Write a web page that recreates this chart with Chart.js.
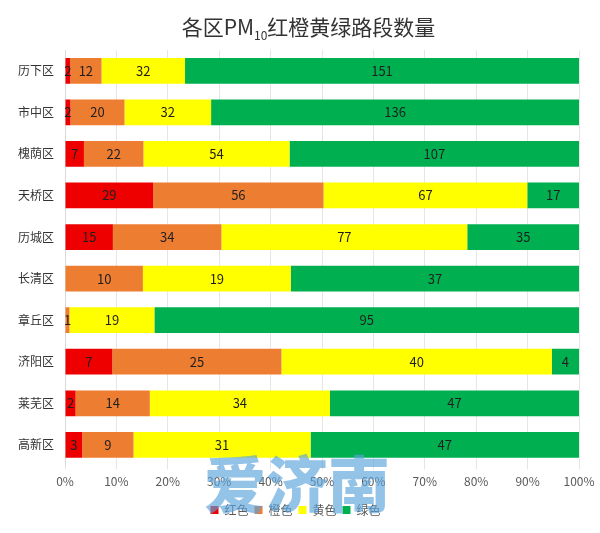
<!DOCTYPE html>
<html lang="zh-CN">
<head>
  <meta charset="UTF-8">
  <title>各区PM10红橙黄绿路段数量</title>
  <script src="https://cdn.jsdelivr.net/npm/chart.js"></script>
  <style>
    html, body { margin: 0; padding: 0; background: #fff; }
    #wrap { position: relative; width: 600px; height: 533px; overflow: hidden; font-family: "Noto Sans CJK SC", sans-serif; }
    #title { position: absolute; left: 17px; right: 0; top: 12px; margin: 0; text-align: center; font-size: 21px; line-height: 28px; font-weight: 400; color: #333; }
    #title sub { font-size: 12px; line-height: 0; }
    #mark { position: absolute; left: 204px; top: 441px; font-size: 62px; line-height: 80px; font-weight: 900; color: rgba(91, 163, 219, 0.65); white-space: nowrap; }
    canvas { position: absolute; left: 0; top: 0; }
  </style>
</head>
<body>
  <div id="wrap">
    <canvas id="chart" width="600" height="533"></canvas>
    <h1 id="title">各区PM<sub>10</sub>红橙黄绿路段数量</h1>
    <div id="mark">爱济南</div>
  </div>

  <script>
    const districts = ['历下区', '市中区', '槐荫区', '天桥区', '历城区', '长清区', '章丘区', '济阳区', '莱芜区', '高新区'];
    const red = [2, 2, 7, 29, 15, 0, 0, 7, 2, 3];
    const orange = [12, 20, 22, 56, 34, 10, 1, 25, 14, 9];
    const yellow = [32, 32, 54, 67, 77, 19, 19, 40, 34, 31];
    const green = [151, 136, 107, 17, 35, 37, 95, 4, 47, 47];

    const seriesNames = ['红色', '橙色', '黄色', '绿色'];
    const seriesColors = ['#ee0000', '#ed7d31', '#ffff00', '#00b050'];
    const seriesValues = [red, orange, yellow, green];

    const fontFamily = '"Noto Sans CJK SC", sans-serif';

    // share of each district's total, the bars are 100% stacked
    const totals = districts.map((d, i) => red[i] + orange[i] + yellow[i] + green[i]);
    const toPercent = values => values.map((v, i) => v / totals[i] * 100);

    // raw counts written in the middle of each segment
    const countLabels = {
      id: 'countLabels',
      afterDatasetsDraw(chart) {
        const ctx = chart.ctx;
        ctx.save();
        ctx.font = '13px ' + fontFamily;
        ctx.fillStyle = '#1f1f1f';
        ctx.textAlign = 'center';
        ctx.textBaseline = 'middle';
        chart.data.datasets.forEach((ds, s) => {
          chart.getDatasetMeta(s).data.forEach((bar, i) => {
            const count = seriesValues[s][i];
            if (count === 0) return;
            ctx.fillText(count, (bar.x + bar.base) / 2, bar.y);
          });
        });
        ctx.restore();
      }
    };

    new Chart(document.getElementById('chart'), {
      type: 'bar',
      data: {
        labels: districts,
        datasets: seriesNames.map((name, s) => ({
          label: name,
          data: toPercent(seriesValues[s]),
          backgroundColor: seriesColors[s],
          categoryPercentage: 0.62,
          barPercentage: 1
        }))
      },
      options: {
        indexAxis: 'y',
        responsive: false,
        animation: false,
        layout: { padding: { top: 50, right: 21, bottom: 7, left: 12 } },
        plugins: {
          title: { display: false },
          tooltip: { enabled: false },
          legend: {
            position: 'bottom',
            labels: { boxWidth: 8, boxHeight: 8, padding: 6, color: '#595959', font: { family: fontFamily, size: 12 } }
          }
        },
        scales: {
          x: {
            stacked: true,
            min: 0,
            max: 100,
            afterFit(scale) { scale.height += 4; },
            ticks: { stepSize: 10, padding: 5, color: '#595959', font: { family: fontFamily, size: 12 }, callback: v => v + '%', maxRotation: 0 },
            grid: { color: '#e6e6e6', drawTicks: true, tickLength: 4 },
            border: { display: false }
          },
          y: {
            stacked: true,
            afterFit(scale) { scale.width = 53; },
            ticks: { color: '#333', font: { family: fontFamily, size: 12 } },
            grid: { display: false },
            border: { color: '#d9d9d9' }
          }
        }
      },
      plugins: [countLabels]
    });
  </script>
</body>
</html>
